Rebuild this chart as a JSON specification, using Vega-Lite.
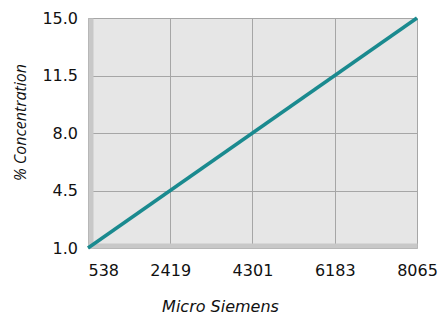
{
  "$schema": "https://vega.github.io/schema/vega-lite/v6.json",
  "autosize": "none",
  "width": 329,
  "height": 230,
  "padding": {"left": 88, "top": 18, "right": 22, "bottom": 68},
  "background": "white",
  "config": {
    "font": "DejaVu Sans",
    "view": {"fill": "#e6e6e6", "stroke": null}
  },
  "data": {"values": [
    {"us": 538, "pct": 1.0},
    {"us": 8065, "pct": 15.0}
  ]},
  "mark": {"type": "line", "color": "#1a8a8f", "strokeWidth": 3.5, "clip": false},
  "encoding": {
    "x": {
      "field": "us", "type": "quantitative",
      "scale": {"domain": [538, 8065], "nice": false, "zero": false},
      "axis": {
        "values": [538, 2419, 4301, 6183, 8065],
        "format": "d",
        "title": "Micro Siemens",
        "titleFont": "DejaVu Sans", "titleFontStyle": "italic", "titleFontWeight": "normal",
        "titleFontSize": 16, "titleColor": "#111", "titlePadding": 20,
        "titleX": 132,
        "labelFontSize": 16, "labelColor": "#111", "labelPadding": 17,
        "labelFlush": false,
        "labelAlign": {"expr": "datum.value == 538 ? 'left' : 'center'"},
        "ticks": false,
        "domainColor": "#c8c8c8", "domainWidth": 5, "offset": -2.5,
        "gridColor": "#a6a6a6", "gridWidth": 1, "gridOpacity": 1
      }
    },
    "y": {
      "field": "pct", "type": "quantitative",
      "scale": {"domain": [1, 15], "nice": false, "zero": false},
      "axis": {
        "values": [1, 4.5, 8, 11.5, 15],
        "format": ".1f",
        "title": "% Concentration",
        "titleFont": "Open Sans", "titleFontStyle": "italic", "titleFontWeight": "normal",
        "titleFontSize": 16, "titleColor": "#111", "titlePadding": 13,
        "titleY": 104,
        "labelFontSize": 16, "labelColor": "#111", "labelPadding": 13,
        "labelFlush": false,
        "ticks": false,
        "domainColor": "#c8c8c8", "domainWidth": 5, "offset": -2.5,
        "gridColor": "#a6a6a6", "gridWidth": 1, "gridOpacity": 1
      }
    }
  }
}
